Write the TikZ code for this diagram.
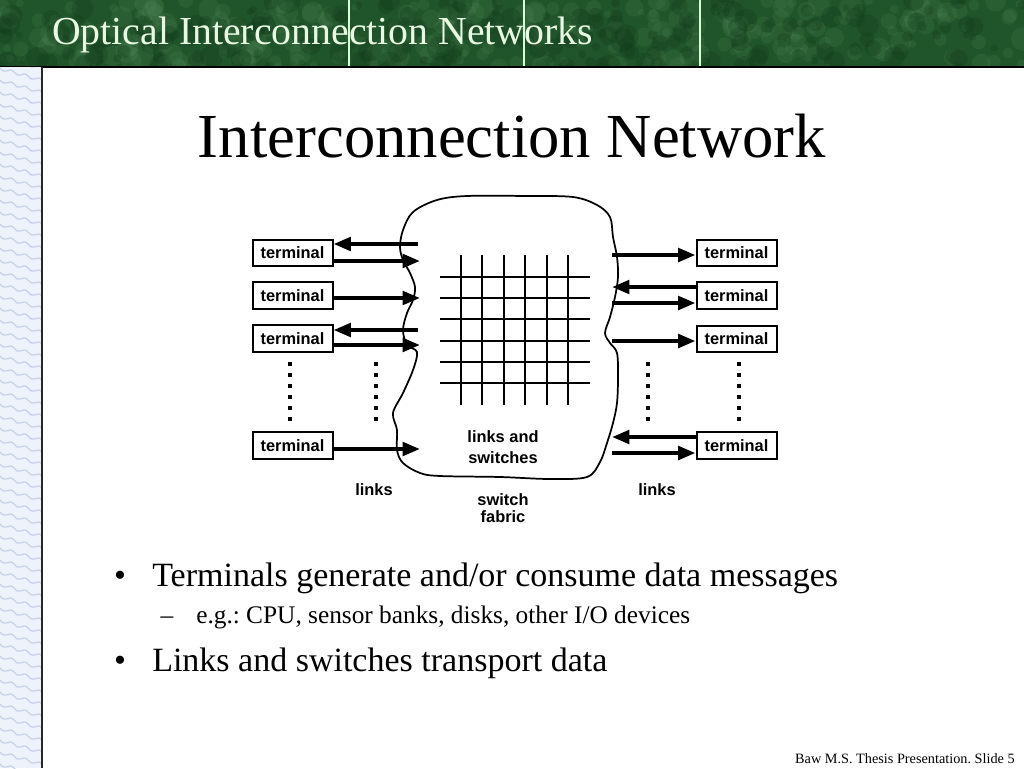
\documentclass[tikz,border=0pt]{standalone}
\usepackage{fontspec}
\setmainfont{Liberation Serif}
\newfontfamily\diagfont{Liberation Sans}
\usetikzlibrary{arrows.meta}
\definecolor{hdr}{RGB}{32,84,42}
\definecolor{hdrlight}{RGB}{90,145,95}
\definecolor{hdrdark}{RGB}{15,55,25}
\definecolor{hdrtext}{RGB}{232,248,226}
\definecolor{stripbg}{RGB}{238,243,251}
\definecolor{stripc}{RGB}{196,209,235}
\begin{document}
\frenchspacing
\begin{tikzpicture}[x=0.75pt,y=-0.75pt,
  term/.style={draw, line width=1.5pt, minimum width=60pt, minimum height=20pt, inner sep=0pt,
    font=\diagfont\bfseries\fontsize{12.3}{14}\selectfont},
  arr/.style={line width=3pt, -{Triangle[length=13pt,width=10pt]}},
  lab/.style={font=\diagfont\bfseries\fontsize{12.3}{14}\selectfont, inner sep=0pt, align=center},
  gridl/.style={line width=1.5pt},
  dotsq/.style={fill=black},
  cloud/.style={line width=1.3pt}]
\useasboundingbox (0,0) rectangle (1024,768);
\fill[white] (0,0) rectangle (1024,768);
% header
\fill[hdr] (0,0) rectangle (1024,67);
\begin{scope}
\clip (0,0) rectangle (1024,67);
\pgfmathsetseed{7}
\foreach \i in {1,...,260} {
  \pgfmathsetmacro\xx{rnd*1024}
  \pgfmathsetmacro\yy{rnd*67}
  \pgfmathsetmacro\rr{3+rnd*9}
  \fill[hdrlight,opacity=0.16] (\xx,\yy) circle[radius=\rr];
}
\foreach \i in {1,...,200} {
  \pgfmathsetmacro\xx{rnd*1024}
  \pgfmathsetmacro\yy{rnd*67}
  \pgfmathsetmacro\rr{3+rnd*9}
  \fill[hdrdark,opacity=0.25] (\xx,\yy) circle[radius=\rr];
}
\end{scope}
\foreach \x in {349,524,700} \draw[white!85!green, line width=0.8pt] (\x,0) -- (\x,67);
\draw[black, line width=1pt] (0,67) -- (1024,67);
\node[anchor=base west, inner sep=0pt, text=hdrtext, font=\fontsize{29.8}{32}\selectfont] (htitle) at (52,44) {Optical Interconnection Networks};
% left strip
\begin{scope}
\clip (0,67.5) rectangle (42,768);
\fill[stripbg] (0,67) rectangle (42,768);
\foreach \y in {56,68,...,780} {
  \draw[stripc, line width=0.9pt] (0,\y) .. controls (6,\y+8) and (9,\y-2) .. (14,\y+4)
     .. controls (20,\y+12) and (23,\y+2) .. (28,\y+8) .. controls (34,\y+16) and (37,\y+6) .. (42,\y+12);
}
\end{scope}
\draw[black!85, line width=1.2pt] (42,67) -- (42,768);
% title
\node[anchor=base, inner sep=0pt, font=\fontsize{47}{50}\selectfont] (title) at (512,157) {Interconnection Network};
% cloud
\draw[cloud] plot[smooth cycle, tension=0.55] coordinates {
(437,200) (467,196) (527,196) (573,197) (597,205) (610,217) (613,237) (617,257) (618,277)
(615,297) (610,317) (605,333) (610,343) (617,353) (618,377) (617,403) (613,423) (607,443)
(600,462) (587,477) (550,479) (500,477) (440,476) (420,473) (403,463) (397,450) (397,430)
(393,413) (403,393) (413,370) (417,352) (407,345) (403,330) (407,313) (413,300) (415,287)
(410,273) (403,260) (400,247) (403,230) (413,212)};
% grid
\foreach \x in {461,482.3,504,525.3,546.7,568.3} \draw[gridl] (\x,255) -- (\x,405);
\foreach \y in {276.7,297.7,319,340.7,362.3,383.3} \draw[gridl] (440,\y) -- (590,\y);
% terminals
\node[term] (tL1) at (292.5,253) {terminal};
\node[term] (tL2) at (292.5,295.5) {terminal};
\node[term] (tL3) at (292.5,338.5) {terminal};
\node[term] (tL4) at (292.5,445.5) {terminal};
\node[term] (tR1) at (736.5,253) {terminal};
\node[term] (tR2) at (736.5,295.5) {terminal};
\node[term] (tR3) at (736.5,339) {terminal};
\node[term] (tR4) at (736.5,445.5) {terminal};
% link end points at the cloud
\coordinate (cL1i) at (418,244);
\coordinate (cL1o) at (420,261);
\coordinate (cL2o) at (420,298);
\coordinate (cL3i) at (418,330);
\coordinate (cL3o) at (420,345);
\coordinate (cL4o) at (420,449);
\coordinate (cR1o) at (612,255);
\coordinate (cR2i) at (612,287);
\coordinate (cR2o) at (612,303);
\coordinate (cR3o) at (612,341);
\coordinate (cR4i) at (612,437);
\coordinate (cR4o) at (612,453);
% arrows
\draw[arr] (cL1i) -- (cL1i -| tL1.east);
\draw[arr] (cL1o -| tL1.east) -- (cL1o);
\draw[arr] (cL2o -| tL2.east) -- (cL2o);
\draw[arr] (cL3i) -- (cL3i -| tL3.east);
\draw[arr] (cL3o -| tL3.east) -- (cL3o);
\draw[arr] (cL4o -| tL4.east) -- (cL4o);
\draw[arr] (cR1o) -- (cR1o -| tR1.west);
\draw[arr] (cR2i -| tR2.west) -- (cR2i);
\draw[arr] (cR2o) -- (cR2o -| tR2.west);
\draw[arr] (cR3o) -- (cR3o -| tR3.west);
\draw[arr] (cR4i -| tR4.west) -- (cR4i);
\draw[arr] (cR4o) -- (cR4o -| tR4.west);
% dots
\foreach \x in {290,376,648,739} \foreach \y in {364,375,386,397,408,419}
  \fill[dotsq] (\x-2,\y-2) rectangle (\x+2,\y+2);
% labels
\node[lab] (linksL) at (374,490) {links};
\node[lab] (linksR) at (657,490) {links};
\node[lab, font=\diagfont\bfseries\fontsize{12.3}{15.75}\selectfont] (lands) at (503,447) {links and\\switches};
\node[lab, font=\diagfont\bfseries\fontsize{12.3}{12.75}\selectfont] (sfab) at (503,508) {switch\\fabric};
% bullets
\node[anchor=base, inner sep=0pt, font=\fontsize{25.5}{28}\selectfont] (b1) at (120,586) {•};
\node[anchor=base west, inner sep=0pt, font=\fontsize{25.5}{28}\selectfont] (t1) at (152,586) {Terminals generate and/or consume data messages};
\node[anchor=base, inner sep=0pt, font=\fontsize{19}{22}\selectfont] (d1) at (167,623) {–};
\node[anchor=base west, inner sep=0pt, font=\fontsize{19}{22}\selectfont] (t2) at (196,623) {e.g.: CPU, sensor banks, disks, other I/O devices};
\node[anchor=base, inner sep=0pt, font=\fontsize{25.5}{28}\selectfont] (b2) at (120,671) {•};
\node[anchor=base west, inner sep=0pt, font=\fontsize{25.5}{28}\selectfont] (t3) at (152,671) {Links and switches transport data};
% footer
\node[anchor=base east, inner sep=0pt, font=\fontsize{10.7}{12}\selectfont] (foot) at (1015,763) {Baw M.S. Thesis Presentation. Slide 5};
\end{tikzpicture}
\end{document}
